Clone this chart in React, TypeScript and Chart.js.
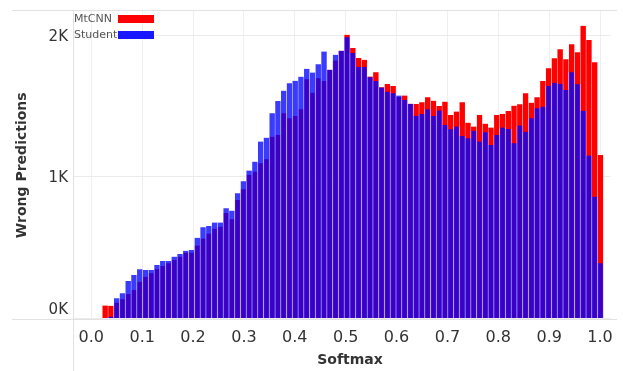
import { useEffect, useRef } from "react";
import { Chart, registerables } from "chart.js";

Chart.register(...registerables);

// Histogram bins (softmax value of the left edge of the first bin, bin width)
const BIN_START = 0.0216;
const BIN_WIDTH = 0.01132;

const SERIES_LABELS = ["MtCNN", "Student"];

const MTCNN = [
  91, 90, 112, 136, 173, 201, 260, 295, 319, 348,
  371, 390, 413, 437, 465, 465, 515, 565, 600, 635,
  649, 745, 702, 837, 914, 1014, 1038, 1097, 1125, 1285,
  1297, 1450, 1415, 1431, 1478, 1691, 1596, 1698, 1679, 1757,
  1823, 1892, 2005, 1911, 1840, 1828, 1710, 1740, 1635, 1657,
  1643, 1565, 1575, 1518, 1516, 1528, 1563, 1539, 1502, 1532,
  1438, 1462, 1528, 1384, 1356, 1438, 1377, 1349, 1438, 1445,
  1466, 1504, 1514, 1591, 1525, 1563, 1678, 1768, 1839, 1902,
  1832, 1938, 1881, 2069, 1968, 1811, 1155,
];

const STUDENT = [
  0, 13, 143, 178, 265, 307, 348, 343, 343, 378,
  406, 406, 437, 456, 479, 484, 570, 644, 654, 678,
  678, 779, 762, 885, 970, 1045, 1108, 1250, 1278, 1450,
  1537, 1610, 1662, 1680, 1709, 1764, 1738, 1797, 1887, 1757,
  1863, 1892, 1988, 1876, 1777, 1777, 1704, 1679, 1632, 1603,
  1591, 1575, 1544, 1516, 1433, 1445, 1478, 1431, 1469, 1367,
  1337, 1356, 1290, 1273, 1327, 1250, 1316, 1226, 1297, 1349,
  1339, 1238, 1363, 1320, 1415, 1485, 1497, 1645, 1666, 1659,
  1615, 1740, 1655, 1468, 1151, 861, 390,
];

const X_TICKS = [0, 0.1, 0.2, 0.3, 0.4, 0.5, 0.6, 0.7, 0.8, 0.9, 1.0];
const Y_TICKS = [0, 1000, 2000];
const Y_TICK_LABELS = ["0K", "1K", "2K"];

const X_TITLE = "Softmax";
const Y_TITLE = "Wrong Predictions";

const RED = "rgb(255,0,0)";
const BLUE_FILL = "rgba(0,0,255,0.77)";
const BLUE_LEGEND = "rgb(24,24,255)";

const binCenter = (i: number) => BIN_START + (i + 0.5) * BIN_WIDTH;

const decorPlugin = {
  id: "decor",
  beforeDraw(chart: any) {
    const ctx = chart.ctx;
    ctx.save();
    ctx.fillStyle = "#ffffff";
    ctx.fillRect(0, 0, chart.width, chart.height);
    ctx.restore();
  },
  afterDraw(chart: any) {
    const { ctx, chartArea: ca, scales } = chart;
    const y = scales.y;
    ctx.save();

    // frame / separator lines
    ctx.strokeStyle = "#e2e2e2";
    ctx.lineWidth = 1;
    ctx.beginPath();
    ctx.moveTo(12, Math.round(ca.top) + 0.5);
    ctx.lineTo(617, Math.round(ca.top) + 0.5);
    ctx.moveTo(12, Math.round(ca.bottom) + 0.5);
    ctx.lineTo(617, Math.round(ca.bottom) + 0.5);
    ctx.moveTo(Math.round(ca.left) + 0.5, ca.top);
    ctx.lineTo(Math.round(ca.left) + 0.5, chart.height);
    ctx.stroke();

    // y tick labels
    ctx.fillStyle = "#333";
    ctx.font = "15px 'DejaVu Sans'";
    ctx.textAlign = "right";
    ctx.textBaseline = "middle";
    Y_TICKS.forEach((v, i) => {
      const py = y.getPixelForValue(v);
      ctx.fillText(Y_TICK_LABELS[i], ca.left - 5, Math.min(py + 1.5, ca.bottom - 8));
    });

    // axis titles
    ctx.font = "bold 14px 'DejaVu Sans'";
    ctx.fillStyle = "#333";
    ctx.textAlign = "center";
    ctx.textBaseline = "middle";
    ctx.fillText(X_TITLE, 350, 360);
    ctx.save();
    ctx.translate(22, (ca.top + ca.bottom) / 2 + 1);
    ctx.rotate(-Math.PI / 2);
    ctx.fillText(Y_TITLE, 0, 0);
    ctx.restore();

    // legend
    ctx.font = "11px 'DejaVu Sans'";
    ctx.fillStyle = "#555";
    ctx.textAlign = "left";
    ctx.textBaseline = "middle";
    ctx.fillText(SERIES_LABELS[0], 74, 19.5);
    ctx.fillText(SERIES_LABELS[1], 74, 35);
    ctx.fillStyle = RED;
    ctx.fillRect(118, 15, 36, 8);
    ctx.fillStyle = BLUE_LEGEND;
    ctx.fillRect(118, 31, 36, 8);

    ctx.restore();
  },
};

export default function App() {
  const canvasRef = useRef<HTMLCanvasElement | null>(null);

  useEffect(() => {
    const canvas = canvasRef.current;
    if (!canvas) return;
    const sepColor = "rgba(255,255,255,0.65)";
    const chart = new Chart(canvas, {
      type: "bar",
      data: {
        datasets: [
          {
            label: SERIES_LABELS[0],
            data: MTCNN.map((v, i) => ({ x: binCenter(i), y: v })),
            backgroundColor: RED,
            borderColor: sepColor,
            borderWidth: { left: 0.5, right: 0.5, top: 0, bottom: 0 },
            borderSkipped: false,
            order: 2,
          },
          {
            label: SERIES_LABELS[1],
            data: STUDENT.map((v, i) => ({ x: binCenter(i), y: v })),
            backgroundColor: BLUE_FILL,
            borderColor: sepColor,
            borderWidth: { left: 0.5, right: 0.5, top: 0, bottom: 0 },
            borderSkipped: false,
            order: 1,
          },
        ],
      } as any,
      options: {
        responsive: false,
        animation: false,
        devicePixelRatio: 1,
        grouped: false,
        categoryPercentage: 1,
        barPercentage: 1,
        layout: { padding: { top: 10, right: 11, left: 0, bottom: 0 } },
        plugins: {
          legend: { display: false },
          tooltip: { enabled: false },
          title: { display: false },
        },
        scales: {
          x: {
            type: "linear",
            min: -0.036,
            max: 1.02,
            offset: false,
            grid: { color: "#efefef", offset: false, drawTicks: false },
            border: { display: false },
            ticks: {
              font: { family: "'DejaVu Sans'", size: 16 },
              color: "#333",
              padding: 10,
              autoSkip: false,
              maxRotation: 0,
              callback: (v: any) => Number(v).toFixed(1),
            },
            afterBuildTicks: (s: any) => {
              s.ticks = X_TICKS.map((v) => ({ value: v }));
            },
            afterFit: (s: any) => {
              s.height = 52.5;
            },
          },
          y: {
            type: "linear",
            min: 0,
            max: 2180,
            grid: { color: "#ebebeb", drawTicks: false },
            border: { display: false },
            ticks: { display: false },
            afterBuildTicks: (s: any) => {
              s.ticks = Y_TICKS.map((v) => ({ value: v }));
            },
            afterFit: (s: any) => {
              s.width = 73;
            },
          },
        },
      } as any,
      plugins: [decorPlugin],
    });
    return () => chart.destroy();
  }, []);

  return (
    <div style={{ position: "absolute", left: 0, top: 0, width: 623, height: 371, background: "#fff" }}>
      <canvas ref={canvasRef} width={623} height={371} style={{ display: "block", width: 623, height: 371 }} />
    </div>
  );
}
